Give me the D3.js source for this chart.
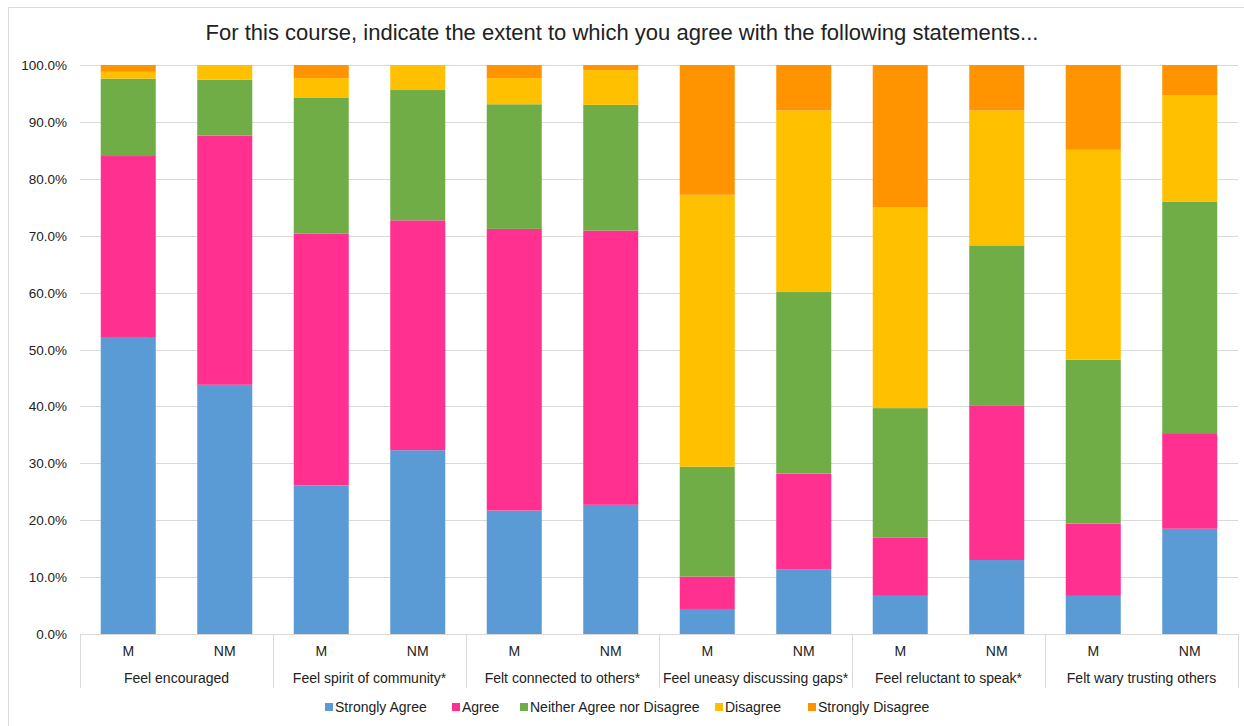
<!DOCTYPE html>
<html>
<head>
<meta charset="utf-8">
<script src="https://cdn.jsdelivr.net/npm/d3@7"></script>
<style>
  body { margin: 0; background: #fff; font-family: "Liberation Sans", Arial, sans-serif; }
  svg text { fill: #222; }
</style>
</head>
<body>
<svg id="chart" width="1244" height="726"></svg>
<script>
// chart data (percent of respondents)
const statements = ["Feel encouraged", "Feel spirit of community*", "Felt connected to others*",
    "Feel uneasy discussing gaps*", "Feel reluctant to speak*", "Felt wary trusting others"];
const groups = ["M", "NM"];
const responses = ["Strongly Agree", "Agree", "Neither Agree nor Disagree", "Disagree", "Strongly Disagree"];
const colors = ["#5b9bd5", "#ff3090", "#70ad47", "#ffc000", "#ff9300"];

// one array per response, 12 values in order statement x (M, NM)
const stronglyAgree = [52.2, 43.8, 26.1, 32.3, 21.7, 22.7, 4.4, 11.4, 6.7, 13.0, 6.7, 18.5];
const agree = [31.8, 43.8, 44.3, 40.4, 49.5, 48.2, 5.7, 16.8, 10.2, 27.2, 12.7, 16.8];
const neither = [13.6, 9.8, 23.9, 22.9, 21.9, 22.1, 19.3, 31.9, 22.8, 28.1, 28.8, 40.7];
const disagree = [1.2, 2.6, 3.4, 4.4, 4.6, 6.1, 47.8, 31.9, 35.3, 23.7, 36.9, 18.7];
const stronglyDisagree = [1.2, 0, 2.3, 0, 2.3, 0.9, 22.8, 8.0, 25.0, 8.0, 14.9, 5.3];
const yTicks = [0, 10, 20, 30, 40, 50, 60, 70, 80, 90, 100];

const seriesValues = [stronglyAgree, agree, neither, disagree, stronglyDisagree];

// build rows for the stack
let rows = [];
statements.forEach((s, i) => {
    groups.forEach((g, j) => {
        let idx = i * groups.length + j;
        let row = {key: idx, statement: s, group: g};
        responses.forEach((r, k) => { row[r] = seriesValues[k][idx]; });
        rows.push(row);
    });
});

const svg = d3.select("#chart");
const plotLeft = 80, plotRight = 1238, plotTop = 65, plotBottom = 634;

// frame around the chart
svg.append("path")
    .attr("d", "M8.5,726V7.5H1244")
    .attr("fill", "none")
    .attr("stroke", "#d9d9d9");

svg.append("text")
    .attr("x", 622).attr("y", 40)
    .attr("text-anchor", "middle")
    .style("font-size", "22px")
    .text("For this course, indicate the extent to which you agree with the following statements...");

let x = d3.scaleBand()
    .domain(rows.map(d => d.key))
    .range([plotLeft, plotRight])
    .paddingInner(0.43)
    .paddingOuter(0.215);

let y = d3.scaleLinear()
    .domain([0, 100])
    .range([plotBottom, plotTop]);

// gridlines
svg.append("g")
    .selectAll("line")
    .data(yTicks.slice(1))
    .enter()
    .append("line")
    .attr("x1", plotLeft).attr("x2", plotRight)
    .attr("y1", d => Math.round(y(d)) + 0.5).attr("y2", d => Math.round(y(d)) + 0.5)
    .attr("stroke", "#d9d9d9")
    .attr("stroke-width", 1);

// y labels
svg.append("g")
    .selectAll("text")
    .data(yTicks)
    .enter()
    .append("text")
    .attr("x", 67)
    .attr("y", d => y(d) + 5)
    .attr("text-anchor", "end")
    .style("font-size", "13.5px")
    .text(d => d.toFixed(1) + "%");

let stack = d3.stack().keys(responses);
let layers = stack(rows);

svg.append("g")
    .selectAll("g")
    .data(layers)
    .enter()
    .append("g")
    .attr("fill", (d, i) => colors[i])
    .selectAll("rect")
    .data(d => d)
    .enter()
    .append("rect")
    .attr("x", d => x(d.data.key))
    .attr("width", x.bandwidth())
    .attr("y", d => y(d[1]))
    .attr("height", d => y(d[0]) - y(d[1]));

// category axis (two levels)
let axis = svg.append("g");
axis.append("line")
    .attr("x1", plotLeft).attr("x2", plotRight)
    .attr("y1", plotBottom + 0.5).attr("y2", plotBottom + 0.5)
    .attr("stroke", "#d9d9d9");

let groupWidth = (plotRight - plotLeft) / statements.length;
d3.range(statements.length + 1).forEach(i => {
    let gx = Math.round(plotLeft + i * groupWidth) + 0.5;
    axis.append("line")
        .attr("x1", gx).attr("x2", gx)
        .attr("y1", plotBottom).attr("y2", 688)
        .attr("stroke", "#d9d9d9");
});

axis.selectAll("text.sub")
    .data(rows)
    .enter()
    .append("text")
    .attr("class", "sub")
    .attr("x", d => x(d.key) + x.bandwidth() / 2)
    .attr("y", 656)
    .attr("text-anchor", "middle")
    .style("font-size", "14px")
    .text(d => d.group);

axis.selectAll("text.cat")
    .data(statements)
    .enter()
    .append("text")
    .attr("class", "cat")
    .attr("x", (d, i) => plotLeft + (i + 0.5) * groupWidth)
    .attr("y", 683)
    .attr("text-anchor", "middle")
    .style("font-size", "14px")
    .text(d => d);

// legend
let legendX = [325, 452, 520, 715, 808];
let legend = svg.append("g")
    .selectAll("g")
    .data(responses)
    .enter()
    .append("g")
    .attr("transform", (d, i) => `translate(${legendX[i]},707)`);

legend.append("rect")
    .attr("x", 0).attr("y", -4)
    .attr("width", 8).attr("height", 8)
    .attr("fill", (d, i) => colors[i]);

legend.append("text")
    .attr("x", 10).attr("y", 5)
    .style("font-size", "14px")
    .text(d => d);
</script>
</body>
</html>
